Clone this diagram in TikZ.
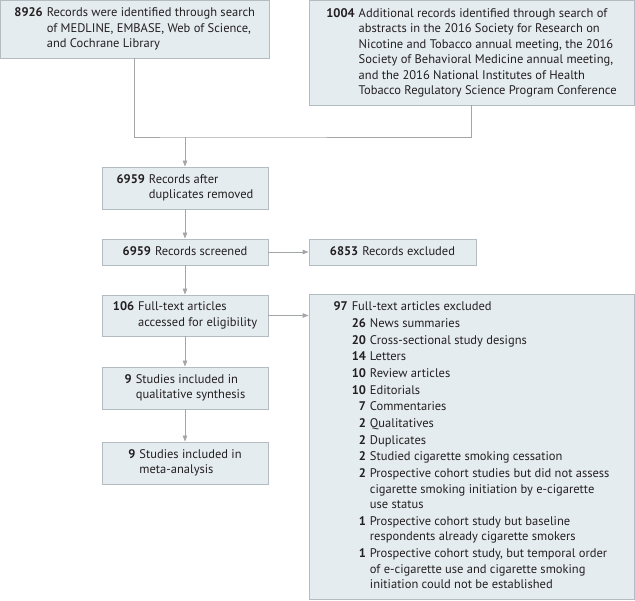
\documentclass[tikz,border=0pt]{standalone}
\usepackage{fontspec}
\setmainfont{PT Sans}
\usepackage{tikz}
\usetikzlibrary{arrows.meta}
\definecolor{boxfill}{HTML}{E5ECF0}
\definecolor{boxline}{HTML}{B5BCC1}
\definecolor{flowline}{HTML}{A3A6A8}
\definecolor{ink}{HTML}{231F20}
\newcommand{\flowtext}[2]{\begin{tabular}{@{}r@{\hspace{4pt}}l@{}}\textbf{#1} & #2\end{tabular}}

\begin{document}
\begin{tikzpicture}[x=1pt,y=-1pt,
	box/.style={draw=boxline,fill=boxfill,line width=0.8pt,inner sep=0pt,text=ink,
		font=\fontsize{12.5}{15.5}\selectfont},
	arr/.style={draw=flowline,line width=0.8pt,-{Triangle[length=6pt,width=4.5pt]}}]
	\useasboundingbox (0,0) rectangle (635,601);
	\node[box,minimum width=268.5pt,minimum height=57.5pt] (src1) at (134.75,29.25)
		{\flowtext{8926}{Records were identified through search\\ & of MEDLINE, EMBASE, Web of Science,\\ & and Cochrane Library}};
	\node[box,minimum width=325pt,minimum height=104.5pt] (src2) at (471.5,52.75)
		{\flowtext{1004}{Additional records identified through search of\\ & abstracts in the 2016 Society for Research on\\ & Nicotine and Tobacco annual meeting, the 2016\\ & Society of Behavioral Medicine annual meeting,\\ & and the 2016 National Institutes of Health\\ & Tobacco Regulatory Science Program Conference}};
	\node[box,minimum width=166pt,minimum height=42pt] (dedup) at (185,188)
		{\flowtext{6959}{Records after\\ & duplicates removed}};
	\node[box,minimum width=166pt,minimum height=26pt] (screen) at (185,252)
		{\flowtext{6959}{Records screened}};
	\node[box,minimum width=167pt,minimum height=26pt] (excl) at (392.5,252)
		{\flowtext{6853}{Records excluded}};
	\node[box,minimum width=166pt,minimum height=41pt] (full) at (185,315.5)
		{\flowtext{106}{Full-text articles\\ & accessed for eligibility}};
	\node[box,minimum width=166pt,minimum height=42pt] (qual) at (185,388)
		{\flowtext{9}{Studies included in\\ & qualitative synthesis}};
	\node[box,minimum width=166pt,minimum height=42pt] (meta) at (185,463)
		{\flowtext{9}{Studies included in\\ & meta-analysis}};
	\node[box,minimum width=325pt,minimum height=305pt] (ftex) at (471.5,446.5)
		{\begin{tabular}{@{}r@{\hspace{4pt}}r@{\hspace{4pt}}l@{}}
		\textbf{97} & \multicolumn{2}{@{}l@{}}{Full-text articles excluded}\\[1.2pt]
		& \textbf{26} & News summaries\\[1.2pt]
		& \textbf{20} & Cross-sectional study designs\\[1.2pt]
		& \textbf{14} & Letters\\[1.2pt]
		& \textbf{10} & Review articles\\[1.2pt]
		& \textbf{10} & Editorials\\[1.2pt]
		& \textbf{7} & Commentaries\\[1.2pt]
		& \textbf{2} & Qualitatives\\[1.2pt]
		& \textbf{2} & Duplicates\\[1.2pt]
		& \textbf{2} & Studied cigarette smoking cessation\\[1.2pt]
		& \textbf{2} & Prospective cohort studies but did not assess\\
		& & cigarette smoking initiation by e-cigarette\\
		& & use status\\[1.2pt]
		& \textbf{1} & Prospective cohort study but baseline\\
		& & respondents already cigarette smokers\\[1.2pt]
		& \textbf{1} & Prospective cohort study, but temporal order\\
		& & of e-cigarette use and cigarette smoking\\
		& & initiation could not be established
		\end{tabular}};
	\coordinate (join) at (185,137);
	\draw[draw=flowline,line width=0.8pt] (src1.south) |- (join) -| (src2.south);
	\draw[arr] (join) -- (dedup.north);
	\draw[arr] (dedup) -- (screen);
	\draw[arr] (screen) -- (excl);
	\draw[arr] (screen) -- (full);
	\draw[arr] (full.east) -- (full.east -| ftex.west);
	\draw[arr] (full) -- (qual);
	\draw[arr] (qual) -- (meta);
\end{tikzpicture}
\end{document}
